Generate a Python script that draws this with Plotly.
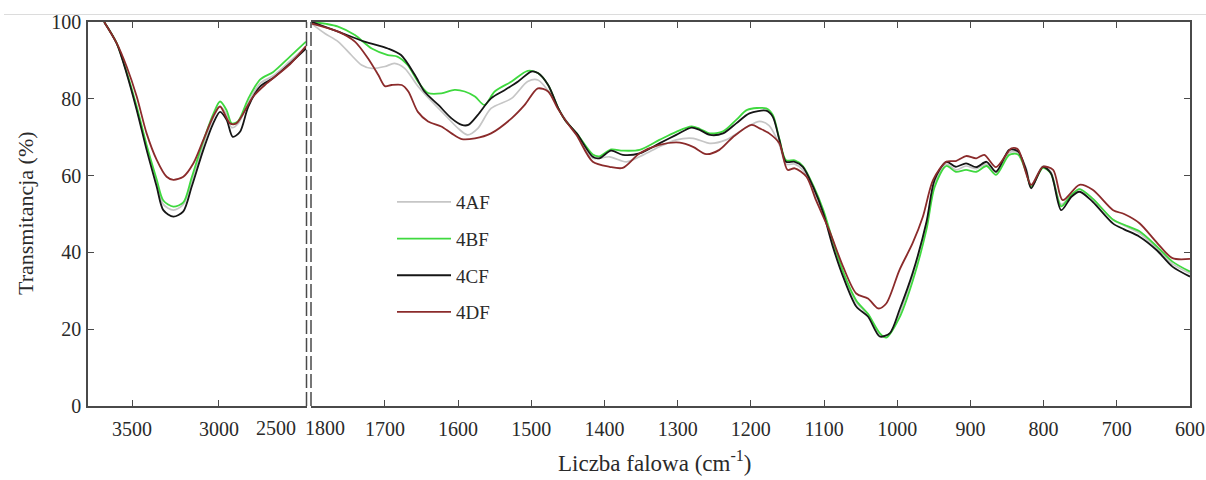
import plotly.graph_objects as go

W, H = 1206, 480

series_names = ["4AF", "4BF", "4CF", "4DF"]
series_colors = ["#c6c6c6", "#3fd93f", "#161616", "#8b2b2b"]
series_widths = [1.7, 1.8, 1.8, 1.8]

# ---------------- left panel: 3750 - 2500 cm-1 ----------------
wn_left_4AF = [3660, 3588, 3531, 3473, 3416, 3358, 3320, 3262, 3205, 3157, 3090, 3033, 2994, 2956, 2927, 2890, 2832, 2764, 2688, 2592, 2500]
t_left_4AF = [100, 94.4, 86.8, 77.5, 67.5, 58.0, 52.5, 51.0, 52.5, 58.5, 68.0, 75.0, 78.0, 76.0, 72.5, 73.5, 79.0, 84.0, 86.0, 89.8, 93.5]

wn_left_4BF = [3660, 3588, 3531, 3473, 3416, 3358, 3320, 3262, 3205, 3157, 3090, 3033, 2994, 2956, 2927, 2890, 2832, 2764, 2688, 2592, 2500]
t_left_4BF = [100, 94.5, 87.0, 78.0, 68.0, 59.0, 53.5, 51.9, 53.0, 59.5, 69.0, 76.0, 79.3, 77.0, 73.6, 74.2, 80.0, 85.0, 87.0, 91.0, 94.9]

wn_left_4CF = [3660, 3588, 3531, 3473, 3416, 3358, 3320, 3262, 3205, 3157, 3090, 3033, 2994, 2956, 2921, 2879, 2832, 2764, 2688, 2592, 2500]
t_left_4CF = [100, 94.4, 86.6, 77.1, 66.7, 57.1, 51.0, 49.3, 50.7, 57.1, 66.7, 73.6, 76.6, 74.5, 70.1, 71.4, 77.9, 83.2, 85.4, 89.2, 93.1]

wn_left_4DF = [3660, 3588, 3531, 3473, 3416, 3358, 3301, 3262, 3205, 3147, 3090, 3033, 2994, 2937, 2900, 2803, 2726, 2592, 2500]
t_left_4DF = [100, 94.5, 88.4, 80.6, 71.0, 64.1, 59.7, 58.9, 59.7, 63.2, 69.3, 75.4, 78.0, 73.6, 73.6, 80.6, 84.0, 89.0, 93.7]

# ---------------- right panel: 1800 - 600 cm-1 ----------------
wn_right_4AF = [1800, 1782, 1764, 1746, 1732, 1718, 1700, 1687, 1673, 1655, 1636, 1618, 1600, 1587, 1573, 1555, 1527, 1505, 1491, 1473, 1460, 1438, 1416, 1393, 1370, 1347, 1325, 1302, 1279, 1256, 1234, 1205, 1188, 1175, 1161, 1152, 1140, 1129, 1115, 1101, 1088, 1074, 1056, 1040, 1024, 1012, 997, 979, 960, 949, 933, 920, 906, 892, 878, 865, 847, 835, 824, 817, 801, 790, 776, 762, 751, 733, 705, 690, 669, 645, 624, 600]
t_right_4AF = [99.5, 97.0, 94.9, 91.4, 88.8, 87.9, 88.4, 89.2, 87.9, 83.3, 79.3, 75.8, 72.3, 70.6, 72.3, 77.5, 80.1, 84.5, 84.9, 81.0, 76.5, 70.5, 64.5, 64.9, 63.6, 65.4, 67.5, 69.3, 69.7, 68.4, 69.3, 72.7, 74.1, 73.0, 68.0, 63.0, 63.0, 61.5, 56.5, 50.0, 42.5, 34.5, 27.0, 23.8, 18.5, 18.5, 24.0, 34.0, 47.5, 58.0, 63.0, 61.5, 62.5, 61.8, 63.0, 60.8, 66.0, 66.0, 62.0, 57.5, 62.5, 61.0, 52.5, 55.0, 56.5, 54.0, 48.5, 47.0, 45.0, 41.0, 37.0, 34.5]

wn_right_4BF = [1800, 1780, 1764, 1741, 1718, 1696, 1683, 1669, 1655, 1641, 1623, 1605, 1591, 1577, 1564, 1550, 1527, 1505, 1491, 1477, 1463, 1454, 1438, 1416, 1407, 1391, 1375, 1352, 1325, 1302, 1281, 1270, 1256, 1238, 1220, 1205, 1179, 1170, 1161, 1152, 1140, 1129, 1115, 1101, 1088, 1074, 1056, 1040, 1024, 1015, 997, 979, 960, 949, 933, 920, 906, 892, 878, 865, 847, 835, 824, 817, 801, 790, 776, 762, 751, 733, 705, 690, 669, 645, 624, 600]
t_right_4BF = [100, 99.5, 98.8, 96.6, 93.1, 91.4, 91.0, 88.8, 84.5, 81.5, 81.4, 82.3, 81.9, 80.6, 78.4, 81.9, 84.5, 87.3, 86.7, 83.6, 77.5, 74.5, 71.0, 65.5, 65.0, 66.8, 66.5, 66.7, 69.3, 71.4, 72.8, 72.2, 71.0, 71.5, 74.5, 77.1, 77.5, 75.8, 69.5, 64.0, 64.0, 62.5, 57.5, 51.0, 43.0, 35.0, 27.5, 24.0, 19.0, 17.8, 23.0, 32.5, 46.0, 57.0, 62.5, 61.0, 61.5, 61.0, 62.5, 60.2, 65.4, 65.5, 61.0, 57.0, 62.0, 60.5, 52.0, 55.0, 56.5, 54.0, 48.5, 47.2, 45.5, 41.5, 37.6, 35.0]

wn_right_4CF = [1800, 1764, 1728, 1696, 1678, 1659, 1646, 1627, 1609, 1595, 1586, 1573, 1555, 1536, 1518, 1500, 1491, 1477, 1463, 1454, 1438, 1416, 1407, 1391, 1375, 1352, 1325, 1302, 1281, 1270, 1256, 1238, 1220, 1202, 1179, 1170, 1161, 1152, 1140, 1129, 1115, 1101, 1088, 1074, 1056, 1040, 1024, 1010, 997, 979, 960, 949, 933, 920, 906, 892, 878, 865, 847, 835, 824, 817, 801, 790, 776, 762, 751, 733, 705, 690, 669, 645, 624, 600]
t_right_4CF = [100, 97.5, 94.9, 93.1, 91.4, 86.2, 81.9, 78.4, 74.9, 73.2, 73.2, 75.8, 80.1, 82.3, 84.5, 87.1, 86.7, 83.6, 77.5, 74.5, 71.0, 64.9, 64.5, 66.5, 65.4, 65.8, 68.4, 70.6, 72.5, 71.9, 70.6, 71.0, 73.6, 76.2, 76.9, 75.3, 69.3, 63.6, 63.6, 62.3, 57.1, 50.2, 41.5, 33.7, 25.9, 23.3, 18.1, 19.0, 25.0, 34.6, 48.0, 58.9, 63.6, 62.3, 63.2, 62.2, 63.6, 61.0, 66.7, 66.3, 61.5, 56.7, 62.3, 60.6, 51.0, 54.5, 55.8, 53.2, 47.5, 46.0, 44.1, 40.5, 36.3, 33.7]

wn_right_4DF = [1800, 1764, 1741, 1723, 1709, 1700, 1691, 1677, 1668, 1655, 1641, 1623, 1609, 1595, 1577, 1555, 1527, 1509, 1491, 1477, 1464, 1450, 1438, 1416, 1393, 1375, 1352, 1325, 1297, 1279, 1261, 1243, 1224, 1199, 1188, 1175, 1161, 1150, 1140, 1124, 1111, 1093, 1074, 1056, 1040, 1026, 1015, 997, 979, 965, 951, 933, 920, 906, 892, 881, 865, 844, 835, 817, 801, 787, 774, 751, 733, 705, 690, 669, 645, 624, 600]
t_right_4DF = [99.6, 97.5, 94.9, 90.5, 86.2, 83.3, 83.6, 83.6, 81.9, 76.6, 74.1, 72.8, 71.0, 69.5, 69.7, 71.0, 74.9, 78.4, 82.7, 81.9, 77.5, 73.5, 70.5, 63.6, 62.3, 62.0, 65.8, 68.0, 68.6, 67.5, 65.6, 66.7, 70.1, 73.2, 72.3, 71.0, 68.4, 61.5, 61.9, 59.7, 53.6, 45.8, 36.3, 29.3, 28.0, 25.4, 26.7, 35.4, 42.4, 49.3, 58.9, 63.6, 63.8, 65.1, 64.5, 65.4, 62.2, 67.1, 66.8, 57.6, 62.3, 61.5, 53.6, 57.6, 56.3, 51.0, 50.0, 47.6, 42.5, 38.5, 38.3]

left_ticks = [3500, 3000]
right_ticks = [1700, 1600, 1500, 1400, 1300, 1200, 1100, 1000, 900, 800, 700, 600]
y_ticks = [0, 20, 40, 60, 80, 100]

left_data = [(wn_left_4AF, t_left_4AF), (wn_left_4BF, t_left_4BF), (wn_left_4CF, t_left_4CF), (wn_left_4DF, t_left_4DF)]
right_data = [(wn_right_4AF, t_right_4AF), (wn_right_4BF, t_right_4BF), (wn_right_4CF, t_right_4CF), (wn_right_4DF, t_right_4DF)]

FONT = "Liberation Serif, Times New Roman, serif"
AX = "#4a4a4a"
TXT = "#2a2a2a"
TICK_SIZE = 20
TITLE_SIZE = 23


def px(x):
    return x / W


def py(y):
    return 1 - y / H


fig = go.Figure()
for i, name in enumerate(series_names):
    xl, yl = left_data[i]
    fig.add_trace(go.Scatter(x=xl, y=yl, xaxis="x", yaxis="y", mode="lines",
                             line=dict(color=series_colors[i], width=series_widths[i], shape="spline", smoothing=0.8),
                             name=name, legendgroup=name, showlegend=False, hoverinfo="skip"))
    xr, yr = right_data[i]
    fig.add_trace(go.Scatter(x=xr, y=yr, xaxis="x2", yaxis="y2", mode="lines",
                             line=dict(color=series_colors[i], width=series_widths[i], shape="spline", smoothing=0.8),
                             name=name, legendgroup=name, showlegend=True))

ydom = [py(406), py(22)]
common_axis = dict(showline=True, linecolor=AX, linewidth=1.5, ticks="inside", ticklen=6,
                   tickcolor=AX, tickwidth=1.2, showgrid=False, zeroline=False, automargin=False,
                   tickfont=dict(family=FONT, size=TICK_SIZE, color=TXT))

fig.update_layout(
    width=W, height=H,
    margin=dict(l=0, r=0, t=0, b=0, autoexpand=False),
    paper_bgcolor="white", plot_bgcolor="white",
    font=dict(family=FONT, color=TXT),
    xaxis=dict(domain=[px(88), px(307)], range=[3753, 2494], tickvals=left_ticks,
               mirror="ticks", anchor="y", ticklabelstandoff=4, **common_axis),
    yaxis=dict(domain=ydom, range=[0, 100], tickvals=y_ticks, anchor="x",
               ticklabelstandoff=1, **common_axis),
    xaxis2=dict(domain=[px(311), px(1190)], range=[1801, 600], tickvals=right_ticks,
                mirror="ticks", anchor="y2", ticklabelstandoff=4, **common_axis),
    yaxis2=dict(domain=ydom, range=[0, 100], tickvals=y_ticks, anchor="x2", side="right",
                showticklabels=False, **common_axis),
    legend=dict(x=px(392), y=py(183), xanchor="left", yanchor="top",
                bgcolor="rgba(255,255,255,0)", font=dict(family=FONT, size=19, color=TXT),
                traceorder="grouped", tracegroupgap=9, itemwidth=54),
    showlegend=True,
)

# broken-axis dashed separators
for xb in (306.5, 311):
    fig.add_shape(type="line", xref="paper", yref="paper", x0=px(xb), x1=px(xb),
                  y0=ydom[0], y1=ydom[1], line=dict(color=AX, width=1.5, dash="14px,4px"))
# faint page border line at top
fig.add_shape(type="line", xref="paper", yref="paper", x0=px(4), x1=1, y0=py(14.5), y1=py(14.5),
              line=dict(color="#dcdcdc", width=1))

# shifted tick labels at the break
for lbl, xc in (("2500", 276), ("1800", 325)):
    fig.add_annotation(text=lbl, xref="paper", yref="paper", x=px(xc), y=py(428),
                       xanchor="center", yanchor="middle", showarrow=False,
                       font=dict(family=FONT, size=TICK_SIZE, color=TXT))

# axis titles
fig.add_annotation(text="Liczba falowa (cm<sup>-1</sup>)", xref="paper", yref="paper",
                   x=px(654), y=py(461), xanchor="center", yanchor="middle", showarrow=False,
                   font=dict(family=FONT, size=TITLE_SIZE, color=TXT))
fig.add_annotation(text="Transmitancja (%)", xref="paper", yref="paper", textangle=-90,
                   x=px(25), y=py(213), xanchor="center", yanchor="middle", showarrow=False,
                   font=dict(family=FONT, size=TITLE_SIZE - 1, color=TXT))

fig.write_html("out.html")
